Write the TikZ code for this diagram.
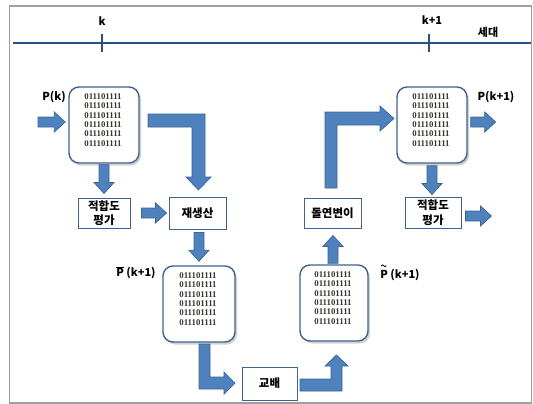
\documentclass[tikz,border=0pt]{standalone}
\usepackage{fontspec}
\newfontfamily\kr{Noto Sans CJK KR}
\newfontfamily\binf{Liberation Serif}
\usetikzlibrary{calc,shadows}
\definecolor{arrfill}{HTML}{4F81BD}
\definecolor{arrline}{HTML}{3A6596}
\definecolor{boxline}{HTML}{3F628E}
\definecolor{tline}{HTML}{2A5185}
\definecolor{bintext}{HTML}{3A3530}
\newcommand\blockarr[2]{%
  \path ($(#2)!11pt!(#1)$) coordinate (hb);
  \filldraw[blockarrow] ($(#1)!5pt!90:(#2)$) -- ($(hb)!5pt!90:(#2)$) -- ($(hb)!10pt!90:(#2)$) -- (#2)
    -- ($(hb)!10pt!-90:(#2)$) -- ($(hb)!5pt!-90:(#2)$) -- ($(#1)!5pt!-90:(#2)$) -- cycle;}
\begin{document}
\begin{tikzpicture}[x=1pt,y=1pt,
  pop/.style={draw=boxline,line width=1.4,rounded corners=10,fill=white,
    minimum width=70,minimum height=76,
    drop shadow={shadow xshift=2pt,shadow yshift=-2.5pt,opacity=0.25,fill=black!70}},
  opbox/.style={draw=boxline,line width=0.9,fill=white,minimum height=30,inner sep=2pt,
    align=center,font=\kr\bfseries\fontsize{11.5}{14.5}\selectfont},
  bintxt/.style={align=center,inner sep=0pt,text=bintext,
    font=\binf\bfseries\fontsize{8.8}{9.3}\selectfont},
  lab/.style={inner sep=1pt,font=\kr\bfseries\fontsize{11}{13}\selectfont},
  blockarrow/.style={fill=arrfill,draw=arrline,line width=0.7,line join=miter},
  tick/.style={draw=tline,line width=2}]
\useasboundingbox (0,0) rectangle (533,-404);
% frame
\draw[gray!75,line width=1.8] (9.5,-5.7) rectangle (531.5,-403);
% timeline
\coordinate (tl0) at (13,-43);
\coordinate (tl1) at (531,-43);
\draw[tline,line width=2.4] (tl0) -- (tl1);
\coordinate (t1a) at (102,-34); \coordinate (t1b) at (102,-52);
\coordinate (t2a) at (429,-34); \coordinate (t2b) at (429,-52);
\draw[tick] (t1a) -- (t1b);
\draw[tick] (t2a) -- (t2b);
\node[lab] (lk) at (102,-21) {k};
\node[lab] (lk1) at (432,-20) {k+1};
\node[lab] (gen) at (488,-32) {세대};
% population boxes
\node[pop] (pk) at (104,-125) {};
\node[pop] (pk1) at (432,-125) {};
\node[pop,minimum width=72] (pbar) at (199,-304) {};
\node[pop,minimum width=68] (ptil) at (334,-303) {};
\foreach \b in {pk,pk1,pbar,ptil}{
  \node[bintxt] (\b t) at ($(\b.center)+(-1,5)$) {011101111\\011101111\\011101111\\011101111\\011101111\\011101111};
}
% operation boxes
\node[opbox,minimum width=52] (fit1) at (104,-213) {적합도\\평가};
\node[opbox,minimum width=57,minimum height=32] (rep) at (197.5,-213) {재생산};
\node[opbox,minimum width=57] (mut) at (332.5,-213) {돌연변이};
\node[opbox,minimum width=56,minimum height=31] (fit2) at (433,-212.5) {적합도\\평가};
\node[opbox,minimum width=55,minimum height=33] (cross) at (269.5,-383.5) {교배};
% labels
\node[lab] (lpk) at (54,-97) {P(k)};
\node[lab] (lpk1) at (496,-97) {P(k+1)};
\node[lab] (lpbar) at (136,-273) {$\overline{\mbox{P}}$ (k+1)};
\node[lab] (lptil) at (400,-275) {P (k+1)};
\coordinate (tld) at ($(lptil.west)+(2.2,9.2)$);
\draw[black,line width=0.8,line cap=round] (tld) sin ++(1.2,0.9) cos ++(1.2,-0.9) sin ++(1.2,-0.9) cos ++(1.2,0.9);
% straight block arrows
\coordinate (a1s) at (38,-122);
\coordinate (a1e) at ($(pk.west)+(-3,3)$);
\blockarr{a1s}{a1e}
\coordinate (a2s) at ($(pk.south)+(0,-1)$);
\coordinate (a2e) at ($(fit1.north)+(0,4)$);
\blockarr{a2s}{a2e}
\coordinate (a3s) at ($(fit1.east)+(11,0)$);
\coordinate (a3e) at ($(rep.west)+(-2,0)$);
\blockarr{a3s}{a3e}
\coordinate (a4s) at ($(rep.south)+(1.5,-3)$);
\coordinate (a4e) at ($(pbar.north)+(0,4)$);
\blockarr{a4s}{a4e}
\coordinate (a5s) at ($(ptil.north)+(-1,1)$);
\coordinate (a5e) at ($(mut.south)+(0.5,-7)$);
\blockarr{a5s}{a5e}
\coordinate (a6s) at ($(pk1.east)+(3,3)$);
\coordinate (out1) at ($(pk1.east)+(28,3)$);
\blockarr{a6s}{out1}
\coordinate (a7s) at ($(pk1.south)+(0,-2)$);
\coordinate (a7e) at ($(fit2.north)+(-1,2)$);
\blockarr{a7s}{a7e}
\coordinate (a8s) at ($(fit2.east)+(4,-3.5)$);
\coordinate (out2) at ($(fit2.east)+(30,-3.5)$);
\blockarr{a8s}{out2}
% bent block arrows
\filldraw[blockarrow] (148,-114) -- (205,-114) -- (205,-177) -- (211,-177) -- (198.5,-190)
  -- (186,-177) -- (192,-177) -- (192,-127) -- (148,-127) -- cycle;
\filldraw[blockarrow] (199,-344) -- (210,-344) -- (210,-377) -- (224,-377) -- (224,-372)
  -- (235,-383) -- (224,-394) -- (224,-389) -- (199,-389) -- cycle;
\filldraw[blockarrow] (300,-379) -- (331,-379) -- (331,-366) -- (325,-366) -- (336.5,-355)
  -- (348,-366) -- (342,-366) -- (342,-391) -- (300,-391) -- cycle;
\filldraw[blockarrow] (325,-188) -- (325,-112) -- (380,-112) -- (380,-106) -- (394,-118.5)
  -- (380,-131) -- (380,-125) -- (337,-125) -- (337,-188) -- cycle;
\end{tikzpicture}
\end{document}
